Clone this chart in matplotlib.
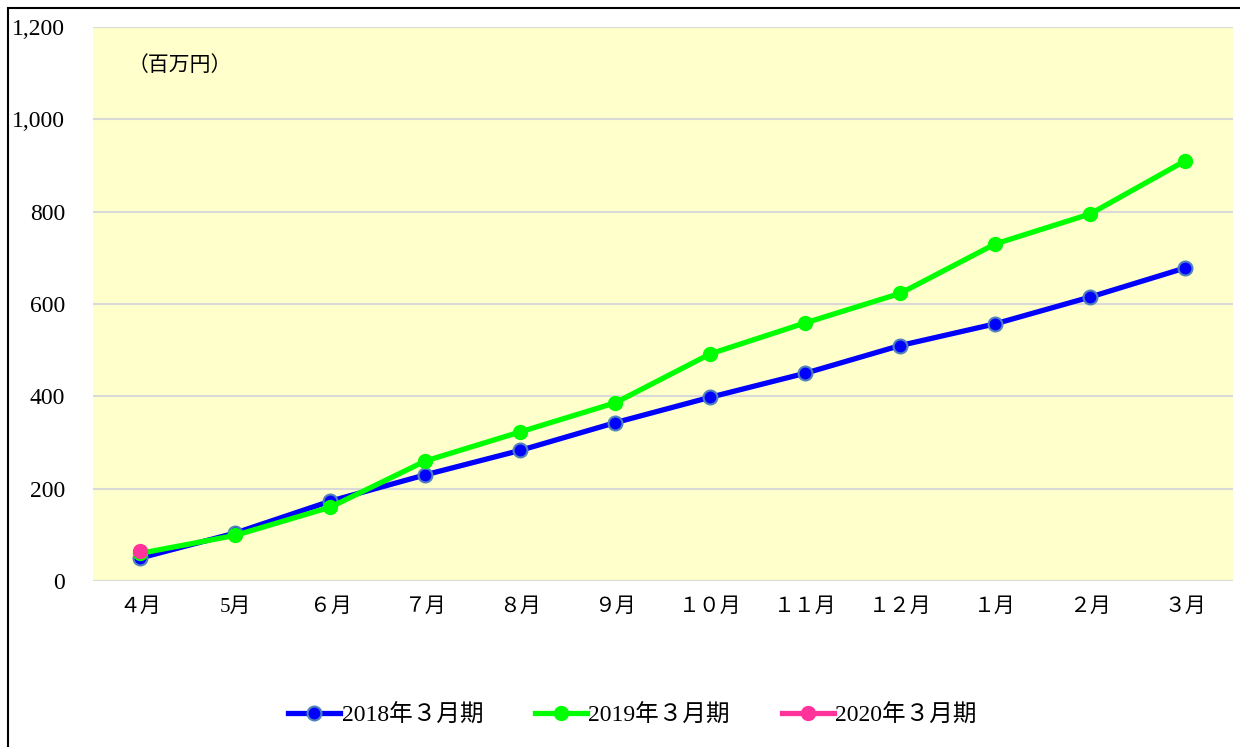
import matplotlib.pyplot as plt
from matplotlib.patches import Rectangle

plt.rcParams['font.family'] = ['Liberation Serif', 'Noto Sans CJK JP']

months = ['４月', '5月', '６月', '７月', '８月', '９月', '１０月', '１１月', '１２月', '１月', '２月', '３月']
v2018 = [50, 104, 173, 230, 283, 343, 398, 450, 510, 557, 615, 678]
v2019 = [60, 99, 160, 260, 323, 386, 492, 559, 623, 730, 795, 910]
v2020 = [65]
labels = ['2018年３月期', '2019年３月期', '2020年３月期']
yticks = [0, 200, 400, 600, 800, 1000, 1200]

fig = plt.figure(figsize=(12.4, 7.47), dpi=100)
ax = fig.add_axes([0.075, 0.2222, 0.919, 0.7417])
ax.set_facecolor('#FFFFCC')

x = list(range(len(months)))
ax.plot(x, v2018, color='#0000FF', lw=3.8, marker='o', ms=10,
        mfc='#0000FF', mec='#4F81BD', mew=1.5, label=labels[0], zorder=3)
ax.plot(x, v2019, color='#00FF00', lw=3.8, marker='o', ms=10,
        mfc='#00FF00', mec='#00FF00', label=labels[1], zorder=4)
ax.plot(x[:len(v2020)], v2020, color='#FF3399', lw=3.8, marker='o', ms=10,
        mfc='#FF3399', mec='#FF3399', label=labels[2], zorder=5)

ax.set_xlim(-0.5, 11.5)
ax.set_ylim(0, 1200)
ax.set_xticks(x)
ax.set_xticklabels(months, fontsize=15)
ax.set_yticks(yticks)
ax.set_yticklabels([f'{v:,}' for v in yticks], fontsize=17)
ax.tick_params(length=0)
ax.tick_params(axis='y', pad=20)
ax.tick_params(axis='x', pad=12)
ax.grid(axis='y', color='#D9D9D9', lw=1.5)
ax.set_axisbelow(True)
for s in ax.spines.values():
    s.set_visible(False)

ax.text(0.03, 0.93, '（百万円）', transform=ax.transAxes, fontsize=15, va='center')

fig.legend(loc='center', bbox_to_anchor=(0.51, 0.042), ncol=3, frameon=False,
           fontsize=17, handlelength=2.2, handletextpad=0.05, columnspacing=2.2)

fig.patches.append(Rectangle((8 / 1240, -0.01), 1.1, 1 - 8 / 747 + 0.01,
                             transform=fig.transFigure, fill=False,
                             ec='black', lw=1.5))

fig.savefig('out.png')
